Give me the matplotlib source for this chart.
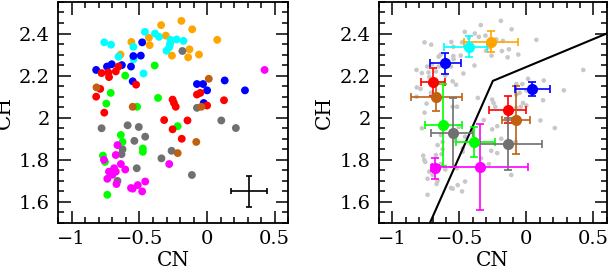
import numpy as np
import matplotlib
matplotlib.use('Agg')
import matplotlib.pyplot as plt
from matplotlib.ticker import MultipleLocator

plt.rcParams['font.family'] = 'DejaVu Serif'

# Individual stars (CN, CH), grouped by colour
orange_cn = [-0.19, -0.34, -0.11, -0.305, 0.075, -0.56, -0.43, -0.425, -0.13, -0.06, -0.26, -0.14, -0.64, -0.27]
orange_ch = [2.46, 2.44, 2.42, 2.39, 2.37, 2.36, 2.38, 2.345, 2.325, 2.30, 2.295, 2.287, 2.30, 2.36]
cyan_cn = [-0.76, -0.71, -0.46, -0.385, -0.355, -0.275, -0.27, -0.225, -0.175, -0.30, -0.655, -0.545, -0.543, -0.47, -0.28]
cyan_ch = [2.358, 2.347, 2.408, 2.40, 2.384, 2.348, 2.37, 2.372, 2.365, 2.318, 2.29, 2.337, 2.278, 2.21, 2.335]
blue_cn = [-0.82, -0.74, -0.705, -0.63, -0.5625, -0.545, -0.49, -0.48, -0.55, -0.075, -0.03, 0.0, 0.13, 0.28, -0.025]
blue_ch = [2.227, 2.243, 2.254, 2.25, 2.243, 2.293, 2.295, 2.358, 2.173, 2.16, 2.16, 2.13, 2.177, 2.13, 2.07]
red_cn = [-0.78, -0.73, -0.725, -0.675, -0.655, -0.79, -0.82, -0.76, -0.525, -0.255, -0.245, -0.232,
          -0.3175, -0.255, -0.145, -0.1875, -0.075, -0.05, 0.0, 0.125]
red_ch = [2.212, 2.215, 2.193, 2.22, 2.243, 2.137, 2.10, 2.024, 2.157, 2.086, 2.07, 2.052,
          1.989, 1.945, 1.987, 1.90, 2.11, 2.118, 2.058, 2.083]
green_cn = [-0.3875, -0.605, -0.7125, -0.745, -0.5175, -0.3625, -0.2175, -0.6375, -0.625, -0.475, -0.475,
            -0.77, -0.755, -0.7375]
green_ch = [2.248, 2.20, 2.118, 2.067, 2.052, 2.094, 1.96, 1.918, 1.885, 1.854, 1.838,
            1.82, 1.79, 1.634]
gray_cn = [-0.1825, -0.78, -0.5875, -0.505, -0.4575, -0.5375, -0.625, -0.6325, -0.3375, -0.2625, -0.52,
           -0.6625, -0.075, 0.105, 0.2125, -0.1125]
gray_ch = [2.317, 1.95, 1.964, 1.956, 1.91, 1.89, 1.85, 1.827, 1.807, 1.843, 1.76,
           1.70, 2.047, 1.987, 1.951, 1.728]
magenta_cn = [0.425, -0.6625, -0.675, -0.7625, -0.6375, -0.6875, -0.605, -0.725, -0.70, -0.675, -0.7375,
              -0.67, -0.5625, -0.5125, -0.55, -0.48, -0.4575, -0.28]
magenta_ch = [2.227, 1.87, 1.823, 1.80, 1.78, 1.76, 1.754, 1.744, 1.729, 1.744, 1.71,
              1.685, 1.666, 1.68, 1.663, 1.65, 1.697, 1.78]
brown_cn = [-0.8175, -0.55, 0.0125, -0.0425, -0.08, -0.2175]
brown_ch = [2.144, 2.052, 2.185, 2.052, 1.885, 1.832]

# Typical error
err_cn, err_ch = 0.31, 1.65
err_dx, err_dy = 0.13, 0.075

# Group means with errors
mean_cn = [-0.264, -0.425, -0.607, -0.70, -0.674, -0.619, -0.545, -0.388, -0.682, -0.346, -0.139, -0.077, -0.134, 0.045]
mean_ch = [2.361, 2.337, 2.259, 2.168, 2.097, 1.964, 1.929, 1.885, 1.76, 1.765, 2.039, 1.989, 1.875, 2.136]
mean_cn_lo = [0.20, 0.19, 0.112, 0.09, 0.19, 0.14, 0.17, 0.14, 0.03, 0.36, 0.137, 0.103, 0.255, 0.128]
mean_cn_hi = [0.20, 0.13, 0.12, 0.09, 0.19, 0.14, 0.15, 0.155, 0.03, 0.36, 0.137, 0.103, 0.25, 0.128]
mean_ch_err = [0.05, 0.05, 0.05, 0.067, 0.063, 0.195, 0.165, 0.07, 0.05, 0.205, 0.065, 0.16, 0.123, 0.035]
mean_col = ['#ffa500', '#00ffff', '#0000ff', '#ff0000', '#c06010', '#00ff00', '#707070', '#00ff00',
            '#ff00ff', '#ff00ff', '#ff0000', '#c06010', '#707070', '#0000ff']

# Dividing line
line_cn = [-0.72, -0.25, 0.6]
line_ch = [1.5, 2.175, 2.4]

groups = [
    (orange_cn, orange_ch, '#ffa500'),
    (cyan_cn, cyan_ch, '#00ffff'),
    (gray_cn, gray_ch, '#707070'),
    (green_cn, green_ch, '#00ff00'),
    (magenta_cn, magenta_ch, '#ff00ff'),
    (blue_cn, blue_ch, '#0000ff'),
    (red_cn, red_ch, '#ff0000'),
    (brown_cn, brown_ch, '#c06010'),
]

fig = plt.figure(figsize=(6.11, 2.77), dpi=100)
ax1 = fig.add_axes([0.0954, 0.195, 0.3764, 0.798])
ax2 = fig.add_axes([0.6203, 0.195, 0.3727, 0.798])

# Left panel: individual stars
for cn, ch, col in groups:
    ax1.scatter(cn, ch, s=32, c=col, edgecolors='none', zorder=2)
ax1.errorbar(err_cn, err_ch, xerr=err_dx, yerr=err_dy, fmt='none', ecolor='black',
             elinewidth=1.2, capsize=2.5, capthick=1.2)

# Right panel: all stars in grey, means on top
all_cn = np.concatenate([g[0] for g in groups])
all_ch = np.concatenate([g[1] for g in groups])
ax2.scatter(all_cn, all_ch, s=11, c='#c8c8c8', edgecolors='none', zorder=1)
ax2.plot(line_cn, line_ch, color='black', linewidth=1.5, zorder=2)
for i in range(len(mean_cn)):
    ax2.errorbar(mean_cn[i], mean_ch[i], xerr=[[mean_cn_lo[i]], [mean_cn_hi[i]]],
                 yerr=mean_ch_err[i], fmt='o', color=mean_col[i], markersize=7,
                 elinewidth=1.2, capsize=2.6, capthick=1.2, zorder=3)

for ax in [ax1, ax2]:
    ax.set_xlim(-1.1, 0.6)
    ax.set_ylim(1.5, 2.55)
    ax.xaxis.set_minor_locator(MultipleLocator(0.1))
    ax.yaxis.set_minor_locator(MultipleLocator(0.05))
    ax.set_yticks([1.6, 1.8, 2.0, 2.2, 2.4])
    ax.set_yticklabels(['1.6', '1.8', '2', '2.2', '2.4'])
    ax.set_xticks([-1, -0.5, 0, 0.5])
    ax.set_xticklabels(['\u22121', '\u22120.5', '0', '0.5'])
    ax.tick_params(which='both', direction='in', top=True, right=True, width=1.1, labelsize=14)
    ax.tick_params(which='major', length=9)
    ax.tick_params(which='minor', length=4.5)
    ax.tick_params(axis='x', pad=5)
    ax.tick_params(axis='y', pad=6)
    for sp in ax.spines.values():
        sp.set_linewidth(1.3)
    ax.set_xlabel('CN', fontsize=14.5, labelpad=2)
    ax.set_ylabel('CH', fontsize=14.5, labelpad=4)

fig.savefig('out.png', dpi=100)
